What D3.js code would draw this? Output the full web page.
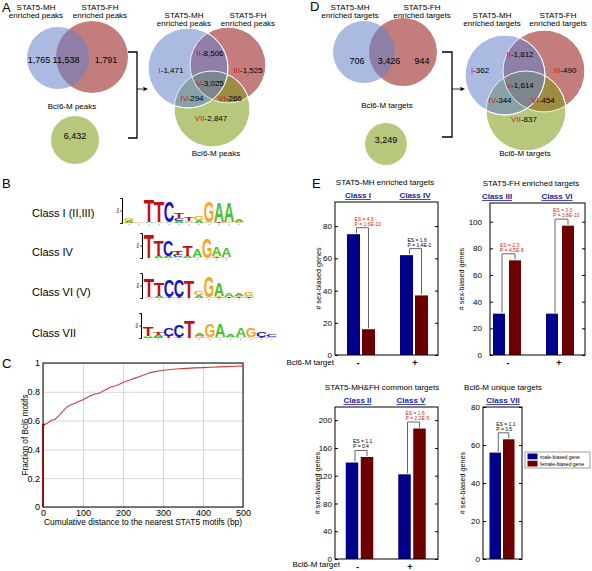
<!DOCTYPE html>
<html><head><meta charset="utf-8">
<script src="https://cdn.jsdelivr.net/npm/d3@7"></script>
<style>
body{margin:0;background:#fff;}
svg{display:block;font-family:"Liberation Sans",Arial,Helvetica,sans-serif;}
</style></head><body>
<svg id="fig" width="592" height="571"></svg>
<script>
// ---------------- DATA ----------------
const peakPairCounts = ["1,765", "11,538", "1,791"];
const peakBcl6Count = "6,432";
const regionNumerals = ["I", "II", "III", "IV", "V", "VI", "VII"];
const peakRegionCounts = ["1,471", "8,506", "1,525", "294", "3,025", "266", "2,847"];
const targetPairCounts = ["706", "3,426", "944"];
const targetBcl6Count = "3,249";
const targetRegionCounts = ["362", "1,812", "490", "344", "1,614", "454", "837"];

const motifClasses = ["Class I (II,III)", "Class IV", "Class VI (V)", "Class VII"];
const logoClassI = [
  [["A",0.15],["G",0.15]], [["G",0.05]], [["A",0.05],["T",1.85]], [["A",0.1],["T",1.7]],
  [["A",0.1],["C",1.65]], [["A",0.15],["C",0.25],["T",0.45]], [["A",0.1],["G",0.1],["T",0.35]],
  [["A",0.25],["G",0.35]], [["A",0.1],["G",1.7]], [["T",0.1],["A",1.6]], [["G",0.05],["A",1.6]],
  [["G",0.1],["A",0.15]]
];
const logoClassIV = [
  [["T",1.85]], [["A",0.2],["T",1.3]], [["A",0.2],["C",1.3]], [["A",0.1],["C",0.15],["T",0.3]],
  [["A",0.15],["T",0.8]], [["G",0.1],["A",0.6]], [["G",1.6]], [["T",0.1],["G",0.1],["A",0.75]],
  [["G",0.1],["A",0.75]]
];
const logoClassVI = [
  [["A",0.05],["T",1.45]], [["A",0.2],["T",1.0]], [["T",0.05],["C",1.4]], [["T",0.05],["C",1.4]],
  [["T",1.35]], [["A",0.25],["G",0.3]], [["A",0.05],["G",1.65]], [["T",0.1],["G",0.1],["A",1.0]],
  [["T",0.1],["A",0.35]], [["T",0.1],["G",0.1],["A",0.2]], [["T",0.1],["A",0.1],["G",0.3]]
];
const logoClassVII = [
  [["C",0.1],["A",0.1],["T",0.7]], [["C",0.1],["A",0.15],["T",0.2]], [["T",0.15],["C",0.65]],
  [["T",0.1],["C",0.9]], [["T",1.35]], [["G",0.2],["A",0.25]], [["A",0.1],["G",1.1]],
  [["G",0.1],["A",1.05]], [["G",0.1],["A",0.2]], [["G",0.1],["A",0.7]], [["A",0.1],["G",0.7]],
  [["T",0.1],["C",0.4]], [["G",0.1],["C",0.15]]
];

const distanceBp = [0, 0, 5, 10, 20, 30, 40, 50, 60, 70, 80, 90, 100, 110, 120, 130, 140, 150, 160, 170, 180,
  190, 200, 210, 220, 230, 240, 250, 260, 270, 280, 290, 300, 320, 340, 360, 380, 400, 420, 440, 460, 480, 500];
const fractionMotifs = [0, 0.57, 0.575, 0.58, 0.6, 0.61, 0.635, 0.665, 0.695, 0.71, 0.72, 0.735, 0.745, 0.76,
  0.775, 0.785, 0.79, 0.805, 0.82, 0.835, 0.84, 0.85, 0.865, 0.875, 0.885, 0.895, 0.905, 0.915, 0.925, 0.935,
  0.94, 0.945, 0.95, 0.955, 0.96, 0.963, 0.966, 0.968, 0.97, 0.973, 0.975, 0.977, 0.98];
const cTicksX = [0, 100, 200, 300, 400, 500];
const cTicksY = [0, 0.2, 0.4, 0.6, 0.8, 1];

const e1Classes = ["Class I", "Class IV"];
const e1Male = [75, 62];
const e1Female = [16, 37];
const e1ES = ["ES = 4.6", "ES = 1.6"];
const e1P = ["P = 1.6E-10", "P = 1.4E-2"];
const e1Sig = [true, false];

const e2Classes = ["Class III", "Class VI"];
const e2Male = [31, 31];
const e2Female = [71, 97];
const e2ES = ["ES = 2.3", "ES = 3.3"];
const e2P = ["P = 4.5E-5", "P = 3.8E-10"];
const e2Sig = [true, true];

const e3Classes = ["Class II", "Class V"];
const e3Male = [139, 122];
const e3Female = [147, 188];
const e3ES = ["ES = 1.1", "ES = 1.6"];
const e3P = ["P = 0.4", "P = 2.2E-5"];
const e3Sig = [false, true];

const e4Classes = ["Class VII"];
const e4Male = [56];
const e4Female = [63];
const e4ES = ["ES = 1.1"];
const e4P = ["P = 0.5"];
const e4Sig = [false];

const bcl6Marks = ["-", "+"];
const legendLabels = ["male-biased gene", "female-biased gene"];

// ---------------- DRAW ----------------
const svg = d3.select("#fig");
const FONT = '"Liberation Sans", Arial, Helvetica, sans-serif';

function txt(g, x, y, s, o = {}) {
  const t = g.append("text").attr("x", x).attr("y", y).text(s)
    .attr("font-size", o.size || 9).attr("fill", o.fill || "#000")
    .attr("text-anchor", o.anchor || "middle");
  if (o.weight) t.attr("font-weight", o.weight);
  return t;
}
function panelLetter(x, y, s) { txt(svg, x, y, s, {size: 13, anchor: "start"}); }

const vBlue = "#6482c8", vRed = "#931212", vGreen = "#7c9b12", vOp = 0.55;

function circle(g, c, col, stroke) {
  g.append("circle").attr("cx", c[0]).attr("cy", c[1]).attr("r", c[2])
    .attr("fill", col).attr("fill-opacity", vOp)
    .attr("stroke", stroke ? "#fff" : "none").attr("stroke-width", 1);
}

function multiLabel(g, x, y, lines, size) {
  lines.forEach((l, i) => txt(g, x, y + i * 8, l, {size}));
}

function regionLabel(g, x, y, num, val) {
  const t = g.append("text").attr("x", x).attr("y", y).attr("font-size", 8).attr("text-anchor", "middle");
  t.append("tspan").attr("fill", "#d0201c").text(num);
  t.append("tspan").attr("fill", "#000").text("-" + val);
}

function bracketArrow(g, xv, x0, y0, y1, ya, xa) {
  g.append("path").attr("d", `M${x0},${y0}H${xv}V${y1}H${x0}`).attr("fill", "none").attr("stroke", "#000").attr("stroke-width", 1.3);
  g.append("line").attr("x1", xv).attr("x2", xa - 4).attr("y1", ya).attr("y2", ya).attr("stroke", "#000").attr("stroke-width", 0.8);
  g.append("path").attr("d", `M${xa},${ya}L${xa - 5},${ya - 2.2}L${xa - 4},${ya}L${xa - 5},${ya + 2.2}Z`).attr("fill", "#000");
}

function vennPanel(cfg) {
  const g = svg.append("g");
  // pair
  circle(g, cfg.pairRed, vRed, false);
  circle(g, cfg.pairBlue, vBlue, false);
  multiLabel(g, cfg.mhLab[0], cfg.mhLab[1], ["STAT5-MH", cfg.noun], 8);
  multiLabel(g, cfg.fhLab[0], cfg.fhLab[1], ["STAT5-FH", cfg.noun], 8);
  cfg.pairNum.forEach((x, i) => txt(g, x, cfg.pairNumY, cfg.pairCounts[i], {size: 9}));
  // single
  circle(g, cfg.single, vGreen, false);
  txt(g, cfg.single[0], cfg.single[1] - 1, cfg.bcl6Count, {size: 9});
  txt(g, cfg.bclLab[0], cfg.bclLab[1], cfg.bclName, {size: 8});
  bracketArrow(g, cfg.br[0], cfg.br[1], cfg.br[2], cfg.br[3], cfg.br[4], cfg.br[5]);
  // triple
  circle(g, cfg.tRed, vRed, true);
  circle(g, cfg.tGreen, vGreen, true);
  circle(g, cfg.tBlue, vBlue, true);
  // re-stroke outlines on top
  [cfg.tRed, cfg.tGreen, cfg.tBlue].forEach(c => g.append("circle").attr("cx", c[0]).attr("cy", c[1]).attr("r", c[2])
    .attr("fill", "none").attr("stroke", "#fff").attr("stroke-width", 0.9).attr("stroke-opacity", 0.8));
  multiLabel(g, cfg.tmhLab[0], cfg.tmhLab[1], ["STAT5-MH", cfg.noun], 8);
  multiLabel(g, cfg.tfhLab[0], cfg.tfhLab[1], ["STAT5-FH", cfg.noun], 8);
  txt(g, cfg.tbclLab[0], cfg.tbclLab[1], cfg.bclName, {size: 8});
  cfg.regPos.forEach((p, i) => regionLabel(g, p[0], p[1], regionNumerals[i], cfg.regionCounts[i]));
}

panelLetter(2, 12, "A");
vennPanel({
  noun: "enriched peaks", bclName: "Bcl6-M peaks",
  pairBlue: [58, 58, 31], pairRed: [92, 57, 36],
  mhLab: [36, 10], fhLab: [100, 10],
  pairNum: [39, 66, 106], pairNumY: 63, pairCounts: peakPairCounts,
  single: [75, 140, 24], bcl6Count: peakBcl6Count, bclLab: [72, 109],
  br: [137, 128, 52, 138, 89, 148],
  tBlue: [188, 68, 40], tRed: [228, 65, 38], tGreen: [212, 109, 38],
  tmhLab: [184, 18], tfhLab: [248, 18], tbclLab: [216, 156],
  regPos: [[171, 73], [210, 56], [248, 73], [192, 101], [210, 86], [230, 101], [211, 121]],
  regionCounts: peakRegionCounts
});

panelLetter(310, 11, "D");
vennPanel({
  noun: "enriched targets", bclName: "Bcl6-M targets",
  pairBlue: [364, 52, 31], pairRed: [403, 52, 34],
  mhLab: [350, 10], fhLab: [422, 10],
  pairNum: [357, 389, 422], pairNumY: 64, pairCounts: targetPairCounts,
  single: [386, 144, 21], bcl6Count: targetBcl6Count, bclLab: [387, 108],
  br: [452, 442, 52, 137, 89, 465],
  tBlue: [505, 75, 40], tRed: [544, 71, 41], tGreen: [526, 111, 40],
  tmhLab: [492, 18], tfhLab: [558, 18], tbclLab: [525, 156],
  regPos: [[480, 73], [520, 57], [565, 73], [500, 103], [520, 88], [543, 103], [524, 122]],
  regionCounts: targetRegionCounts
});

// ---------------- B: motif logos ----------------
panelLetter(2, 188, "B");
const logoCol = {A: "#4fbf2f", C: "#1414c4", G: "#f5a524", T: "#c41010"};
const logoSpecs = [
  {data: logoClassI, axisX: 122, x0: 124, w: 10, top: 198, bottom: 223, labY: 217},
  {data: logoClassIV, axisX: 142, x0: 144, w: 9.7, top: 233, bottom: 258, labY: 256},
  {data: logoClassVI, axisX: 142, x0: 144, w: 10, top: 273, bottom: 298, labY: 296},
  {data: logoClassVII, axisX: 141, x0: 143, w: 10.3, top: 313, bottom: 338, labY: 337}
];
const gB = svg.append("g");
logoSpecs.forEach((s, i) => {
  txt(gB, 32, s.labY, motifClasses[i], {size: 11, anchor: "start"});
  const y = d3.scaleLinear().domain([0, 2]).range([s.bottom, s.top]);
  const xs = d3.scaleLinear().domain([0, 1]).range([s.x0, s.x0 + s.w]);
  const ax = gB.append("g").attr("transform", `translate(${s.axisX},0)`)
    .call(d3.axisLeft(y).tickValues([0, 1, 2]).tickSize(1.5).tickFormat(""));
  ax.select(".domain").attr("stroke", "#000").attr("stroke-width", 1);
  txt(gB, 0, 0, "bits", {size: 3.6}).attr("transform", `translate(${s.axisX - 3},${(s.top + s.bottom) / 2}) rotate(-90)`);
  s.data.forEach((col, j) => {
    let base = 0;
    col.forEach(([ch, h]) => {
      const yb = y(base), yt = y(base + h);
      base += h;
      const px = yb - yt;
      if (px < 0.4) return;
      const t = gB.append("text").attr("font-size", 100).attr("font-weight", "bold")
        .attr("fill", logoCol[ch]).text(ch);
      const len = t.node().getComputedTextLength();
      const sx = (s.w * 1.05) / len, sy = px / 71.6;
      t.attr("transform", `translate(${xs(j) - 0.3},${yb}) scale(${sx},${sy})`);
    });
    gB.append("line").attr("x1", xs(j + 0.5)).attr("x2", xs(j + 0.5)).attr("y1", s.bottom + 1).attr("y2", s.bottom + 2.2)
      .attr("stroke", "#888").attr("stroke-width", 0.8);
  });
});

// ---------------- C: cumulative curve ----------------
panelLetter(2, 368, "C");
const cx = d3.scaleLinear().domain([0, 500]).range([43, 243]);
const cy = d3.scaleLinear().domain([0, 1]).range([507, 363]);
const gC = svg.append("g");
gC.append("g").attr("transform", "translate(0,507)")
  .call(d3.axisBottom(cx).tickValues(cTicksX).tickSize(-(507 - 363)).tickPadding(3).tickFormat(d3.format("d")))
  .call(a => {
    a.attr("font-family", FONT).attr("font-size", 9);
    a.select(".domain").remove();
    a.selectAll("line").attr("stroke", "#d8d8d8");
    a.selectAll("text").attr("fill", "#000");
  });
gC.append("g").attr("transform", "translate(43,0)")
  .call(d3.axisLeft(cy).tickValues(cTicksY).tickSize(-(243 - 43)).tickPadding(3).tickFormat(d => d3.format("~g")(d)))
  .call(a => {
    a.attr("font-family", FONT).attr("font-size", 9);
    a.select(".domain").remove();
    a.selectAll("line").attr("stroke", "#d8d8d8");
    a.selectAll("text").attr("fill", "#000");
  });
gC.append("rect").attr("x", 43).attr("y", 363).attr("width", 200).attr("height", 144)
  .attr("fill", "none").attr("stroke", "#000").attr("stroke-width", 1);
gC.append("path").datum(distanceBp.map((d, i) => [d, fractionMotifs[i]]))
  .attr("d", d3.line().x(d => cx(d[0])).y(d => cy(d[1])))
  .attr("fill", "none").attr("stroke", "#cf3f3f").attr("stroke-width", 1.1);
gC.append("path").datum(distanceBp.slice(0, 3).map((d, i) => [d, fractionMotifs[i]]))
  .attr("d", d3.line().x(d => cx(d[0])).y(d => cy(d[1])))
  .attr("fill", "none").attr("stroke", "#8b0000").attr("stroke-width", 1.6);
txt(gC, 143, 525, "Cumulative distance to the nearest STAT5 motifs (bp)", {size: 8.4});
txt(gC, 0, 0, "Fraction of Bcl6 motifs", {size: 8.2}).attr("transform", "translate(28,435) rotate(-90)");

// ---------------- E: bar charts ----------------
panelLetter(312, 188, "E");
const barBlue = "#00008a", barRed = "#6c0000";

function barPanel(p) {
  const g = svg.append("g");
  const y = d3.scaleLinear().domain([0, p.ymax]).range([p.bottom, p.top]);
  const x = d3.scalePoint().domain(p.classes).range(p.centers);
  const bw = p.bw, gap = p.gap;
  // axes
  g.append("g").attr("transform", `translate(${p.left},0)`)
    .call(d3.axisLeft(y).tickValues(p.ticks).tickSizeInner(-3).tickSizeOuter(0).tickPadding(p.pad))
    .call(a => {
      a.attr("font-family", FONT).attr("font-size", 8);
      a.select(".domain").remove();
      a.selectAll("text").attr("fill", "#000");
    });
  g.append("g").attr("transform", `translate(${p.right},0)`)
    .call(d3.axisRight(y).tickValues(p.ticks).tickSizeInner(-3).tickSizeOuter(0).tickFormat(""))
    .call(a => a.select(".domain").remove());
  // bars
  g.selectAll(".bm").data(p.classes).join("rect")
    .attr("x", d => x(d) - gap / 2 - bw).attr("width", bw)
    .attr("y", (d, i) => y(p.male[i])).attr("height", (d, i) => y(0) - y(p.male[i]))
    .attr("fill", barBlue);
  g.selectAll(".bf").data(p.classes).join("rect")
    .attr("x", d => x(d) + gap / 2).attr("width", bw)
    .attr("y", (d, i) => y(p.female[i])).attr("height", (d, i) => y(0) - y(p.female[i]))
    .attr("fill", barRed);
  g.append("rect").attr("x", p.left).attr("y", p.top).attr("width", p.right - p.left).attr("height", p.bottom - p.top)
    .attr("fill", "none").attr("stroke", "#000").attr("stroke-width", 1);
  // brackets & annotations
  p.classes.forEach((c, i) => {
    const ym = y(p.male[i]), yf = y(p.female[i]);
    const yb = Math.min(ym, yf) - 6.5;
    const lx = x(c) - gap / 2 - bw / 2 + 3, rx = x(c) + gap / 2 + bw / 2;
    g.append("path").attr("d", `M${lx},${ym - 1}V${yb}H${rx}V${yf - 1}`)
      .attr("fill", "none").attr("stroke", "#666").attr("stroke-width", 1);
    const col = p.sig[i] ? "#d42020" : "#000";
    txt(g, lx - 2, yb - 7, p.es[i], {size: 5, anchor: "start", fill: col});
    txt(g, lx - 2, yb - 2, p.p[i], {size: 5, anchor: "start", fill: col});
    txt(g, x(c) + p.labDx[i], p.top - 4, c, {size: 8, weight: "bold", fill: "#1c1c9c"}).attr("text-decoration", "underline");
    if (p.marks) txt(g, x(c) + p.markDx[i], p.bottom + 11, bcl6Marks[i], {size: 9, weight: "bold"});
  });
  txt(g, p.titleX, p.top - 17, p.title, {size: 8});
  txt(g, 0, 0, "# sex-biased genes", {size: 7.2}).attr("transform", `translate(${p.ylabX},${(p.top + p.bottom) / 2}) rotate(-90)`);
  if (p.bcl) txt(g, p.bcl[0], p.bcl[1], "Bcl6-M target", {size: 8, anchor: "end"});
  return g;
}

barPanel({
  classes: e1Classes, male: e1Male, female: e1Female, es: e1ES, p: e1P, sig: e1Sig,
  left: 335, right: 438, top: 202, bottom: 355, ymax: 95, ticks: [0, 20, 40, 60, 80], pad: 3,
  centers: [361, 414], bw: 13, gap: 2, labDx: [-3, 1], marks: true, markDx: [-3, 1],
  title: "STAT5-MH enriched targets", titleX: 385, ylabX: 321, bcl: [334, 365]
});
barPanel({
  classes: e2Classes, male: e2Male, female: e2Female, es: e2ES, p: e2P, sig: e2Sig,
  left: 490, right: 585, top: 203, bottom: 355, ymax: 114, ticks: [0, 20, 40, 60, 80, 100], pad: 8,
  centers: [507, 560], bw: 12, gap: 4, labDx: [-10, -3], marks: true, markDx: [1, -1],
  title: "STAT5-FH enriched targets", titleX: 531, ylabX: 464
});
barPanel({
  classes: e3Classes, male: e3Male, female: e3Female, es: e3ES, p: e3P, sig: e3Sig,
  left: 335, right: 438, top: 407, bottom: 559, ymax: 219, ticks: [0, 40, 80, 120, 160, 200], pad: 3,
  centers: [359.5, 412], bw: 12.5, gap: 2.5, labDx: [-2, -1], marks: true, markDx: [-2, -2],
  title: "STAT5-MH&FH common targets", titleX: 382, ylabX: 320, bcl: [340, 567]
});
barPanel({
  classes: e4Classes, male: e4Male, female: e4Female, es: e4ES, p: e4P, sig: e4Sig,
  left: 483, right: 522, top: 407, bottom: 559, ymax: 80, ticks: [0, 20, 40, 60, 80], pad: 3,
  centers: [502, 502], bw: 11.5, gap: 2, labDx: [1], marks: false,
  title: "Bcl6-M unique targets", titleX: 503, ylabX: 465
});

// legend
const gL = svg.append("g");
gL.append("rect").attr("x", 525).attr("y", 452).attr("width", 65).attr("height", 16)
  .attr("fill", "#fff").attr("stroke", "#777").attr("stroke-width", 0.7);
[barBlue, barRed].forEach((c, i) => {
  gL.append("rect").attr("x", 527.5).attr("y", 453.5 + i * 7.2).attr("width", 10).attr("height", 5.8).attr("fill", c);
  txt(gL, 540, 458.5 + i * 7.2, legendLabels[i], {size: 5, anchor: "start"});
});
</script>
</body></html>
